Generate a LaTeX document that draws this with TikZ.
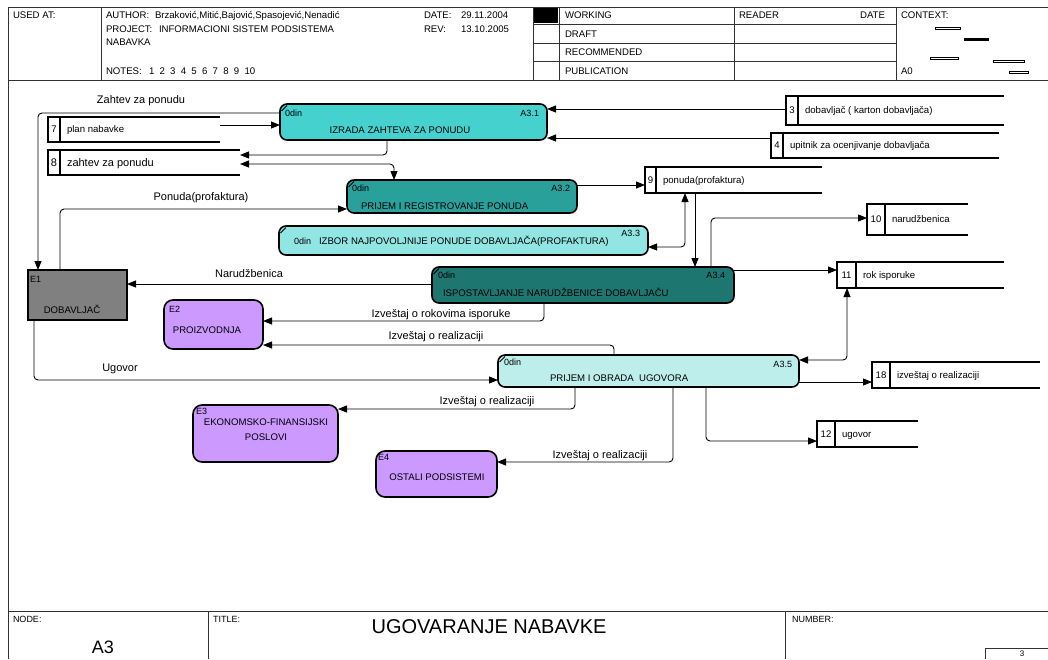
\documentclass[tikz,border=0pt]{standalone}
\usepackage{fontspec}
\setmainfont{Liberation Sans}
\usetikzlibrary{arrows.meta}

\definecolor{procA}{RGB}{69,210,207}
\definecolor{procB}{RGB}{42,160,155}
\definecolor{procC}{RGB}{145,229,226}
\definecolor{procD}{RGB}{30,118,112}
\definecolor{procE}{RGB}{190,238,236}
\definecolor{lav}{RGB}{204,153,255}
\definecolor{extgrey}{RGB}{128,128,128}
\definecolor{rulegrey}{RGB}{50,50,50}

\pgfdeclarelayer{flows}
\pgfsetlayers{flows,main}

\tikzset{
  frame/.style={draw=rulegrey, line width=0.8pt},
  proc/.style={draw=black, line width=1.6pt, rounded corners=7pt, inner sep=0pt, outer sep=0pt},
  entbox/.style={draw=black, line width=1.6pt, rounded corners=9pt, fill=lav, inner sep=0pt, outer sep=0pt},
  extbox/.style={draw=black, line width=1.6pt, fill=extgrey, inner sep=0pt, outer sep=0pt},
  flow/.style={draw=black, line width=0.9pt, rounded corners=4pt, -{Triangle[length=9pt,width=7pt]}},
  flowboth/.style={draw=black, line width=0.9pt, rounded corners=4pt,
    {Triangle[length=9pt,width=7pt]}-{Triangle[length=9pt,width=7pt]}},
  storeline/.style={draw=black, line width=1.8pt},
  lab/.style={inner sep=0pt, outer sep=0pt},
  f8/.style={lab, font=\fontsize{8}{9}\selectfont, yshift=-2.9pt},
  f9/.style={lab, font=\fontsize{9}{10}\selectfont, yshift=-3.2pt},
  f96/.style={lab, font=\fontsize{9.6}{11}\selectfont, yshift=-3.45pt},
  f11/.style={lab, font=\fontsize{11}{12}\selectfont, yshift=-3.95pt},
  cornertick/.style={line width=0.9pt},
  ctxbar/.style={draw=black, line width=0.7pt, fill=white},
}

% data store: name, left, top, right, bottom, divider x, number, label, text style
\newcommand{\datastore}[9]{%
  \node[lab, minimum width={(#4-#2)*1pt}, minimum height={(#5-#3)*1pt}] (#1) at ({(#2+#4)/2},{(#3+#5)/2}) {};
  \draw[storeline] (#1.north east) -- (#1.north west) -- (#1.south west) -- (#1.south east);
  \draw[storeline] ({#6},{#3}) -- ({#6},{#5});
  \node[#9, anchor=base] (#1n) at ({(#2+#6)/2},{(#3+#5)/2}) {#7};
  \node[#9, anchor=base west] (#1t) at ({#6+7},{(#3+#5)/2}) {#8};
}

\begin{document}
\begin{tikzpicture}[x=1pt,y=-1pt]
\useasboundingbox (0,0) rectangle (1048,659);

% ---------- header block ----------
\draw[frame] (8,7) -- (1048,7);
\draw[frame] (8,80) -- (1048,80);
\draw[frame] (8,7) -- (8,659);
\draw[frame] (101,7) -- (101,80);
\draw[frame] (533,7) -- (533,80);
\draw[frame] (559,7) -- (559,80);
\draw[frame] (734,7) -- (734,80);
\draw[frame] (896,7) -- (896,80);
\draw[frame] (533,24) -- (896,24);
\draw[frame] (533,43) -- (896,43);
\draw[frame] (533,61) -- (896,61);
\fill[black] (534,8) rectangle (558,23);

\node[f96, anchor=base west] (hused) at (13,15) {USED AT:};
\node[f96, anchor=base west] (hauth) at (106,15) {AUTHOR:};
\node[f96, anchor=base west] (hauthv) at (155,15) {Brzaković,Mitić,Bajović,Spasojević,Nenadić};
\node[f96, anchor=base west] (hproj) at (106,29) {PROJECT:};
\node[f96, anchor=base west] (hprojv) at (159,29) {INFORMACIONI SISTEM PODSISTEMA};
\node[f96, anchor=base west] (hproj2) at (106,42) {NABAVKA};
\node[f96, anchor=base west] (hnotes) at (106,71) {NOTES:};
\node[f96, anchor=base west] (hnotesv) at (149,71) {{\spaceskip=.55em\relax 1 2 3 4 5 6 7 8 9 10}};
\node[f96, anchor=base west] (hdate) at (424,15) {DATE:};
\node[f96, anchor=base west] (hdatev) at (461,15) {29.11.2004};
\node[f96, anchor=base west] (hrev) at (424,29) {REV:};
\node[f96, anchor=base west] (hrevv) at (461,29) {13.10.2005};
\node[f96, anchor=base west] (hwork) at (565,15) {WORKING};
\node[f96, anchor=base west] (hdraft) at (565,34) {DRAFT};
\node[f96, anchor=base west] (hrec) at (565,52) {RECOMMENDED};
\node[f96, anchor=base west] (hpub) at (565,71) {PUBLICATION};
\node[f96, anchor=base west] (hreader) at (739,15) {READER};
\node[f96, anchor=base east] (hrdate) at (885,15) {DATE};
\node[f96, anchor=base west] (hctx) at (901,15) {CONTEXT:};
\node[f96, anchor=base west] (ha0) at (901,71) {A0};

% context thumbnail
\draw[ctxbar] (935,27) rectangle (960,29.5);
\draw[ctxbar, fill=black] (964,38) rectangle (988,40.5);
\draw[ctxbar] (930,57) rectangle (958,59.5);
\draw[ctxbar] (993,60) rectangle (1024,62.5);
\draw[ctxbar] (1009,71) rectangle (1028,73.5);

% ---------- footer block ----------
\draw[frame] (8,611) -- (1048,611);
\draw[frame] (208,611) -- (208,659);
\draw[frame] (785,611) -- (785,659);
\draw[frame] (985,659) -- (985,648) -- (1048,648);
\node[f9, anchor=base west] (fnode) at (13,619) {NODE:};
\node[lab, font=\fontsize{18}{20}\selectfont, anchor=base, yshift=-6.4pt] (fnodev) at (103,647) {A3};
\node[f9, anchor=base west] (ftitle) at (213,619) {TITLE:};
\node[lab, font=\fontsize{20}{22}\selectfont, anchor=base, yshift=-7.2pt] (ftitlev) at (489,626) {UGOVARANJE NABAVKE};
\node[f9, anchor=base west] (fnum) at (792,619) {NUMBER:};
\node[f8, anchor=base] (fpage) at (1022,654) {3};

% ---------- data stores ----------
\datastore{st3}{786}{96}{1004}{125}{798}{3}{dobavljač ( karton dobavljača)}{f96}
\datastore{st4}{771}{133}{999}{158}{783}{4}{upitnik za ocenjivanje dobavljača}{f96}
\datastore{st7}{48}{117}{220}{142}{60}{7}{plan nabavke}{f96}
\datastore{st8}{48}{150}{240}{175}{60}{8}{zahtev za ponudu}{f11}
\datastore{st9}{645}{167}{822}{193}{656}{9}{ponuda(profaktura)}{f96}
\datastore{st10}{867}{204}{968}{235}{885}{10}{narudžbenica}{f96}
\datastore{st11}{837}{262}{1004}{288}{856}{11}{rok isporuke}{f96}
\datastore{st18}{872}{362}{1040}{388}{890}{18}{izveštaj o realizaciji}{f96}
\datastore{st12}{817}{421}{918}{447}{835}{12}{ugovor}{f96}

% ---------- activity boxes and external entities ----------
\node[proc, fill=procA, minimum width=267pt, minimum height=36pt] (a31) at (413.5,122) {};
\node[proc, fill=procB, minimum width=230pt, minimum height=33pt] (a32) at (462,196.5) {};
\node[proc, fill=procC, minimum width=369pt, minimum height=29pt] (a33) at (463.5,240.5) {};
\node[proc, fill=procD, minimum width=302pt, minimum height=36pt] (a34) at (583,285) {};
\node[proc, fill=procE, minimum width=301pt, minimum height=32pt] (a35) at (648.5,371) {};
\node[extbox, minimum width=99pt, minimum height=50pt] (e1) at (77.5,295) {};
\node[entbox, minimum width=99pt, minimum height=49pt] (e2) at (213.5,324.5) {};
\node[entbox, minimum width=145pt, minimum height=57pt] (e3) at (265.5,433.5) {};
\node[entbox, minimum width=121pt, minimum height=46pt] (e4) at (436.5,474) {};

% corner ticks of the activity boxes
\foreach \b in {a31,a32,a33,a34,a35}
  \draw[cornertick] ([xshift=1.5pt,yshift=-7pt]\b.north west) -- ([xshift=7pt,yshift=-1.5pt]\b.north west);

% ---------- connectors (kept under the boxes) ----------
\begin{pgfonlayer}{flows}
\draw[flow] (a31.west |- 0,113) -| (e1.north -| 38,0);
\draw[flow] (st7.east |- 0,125) -- (a31.west |- 0,125);
\draw[flow] (st3.west |- 0,109) -- (a31.east |- 0,109);
\draw[flow] (st4.west |- 0,138) -- (a31.east |- 0,138);
\draw[flow] (a31.south -| 387,0) |- (st8.east |- 0,155);
\draw[flowboth] (st8.east |- 0,164) -| (a32.north -| 394,0);
\draw[flow] (e1.north -| 60,0) |- (a32.west |- 0,209);
\draw[flow] (a32.east |- 0,185) -- (st9.west |- 0,185);
\draw[flowboth] (a33.east |- 0,247) -| (st9.south -| 685,0);
\draw[flow] (st9.south -| 695,0) -- (a34.north -| 695,0);
\draw[flow] (a34.north -| 711,0) |- (st10.west |- 0,218);
\draw[flow] (a34.west |- 0,284) -- (e1.east |- 0,284);
\draw[flow] (a34.east |- 0,270) -- (st11.west |- 0,270);
\draw[flowboth] (st11.south -| 847,0) |- (a35.east |- 0,360);
\draw[flow] (a34.south -| 544,0) |- (e2.east |- 0,321);
\draw[flow] (a35.north -| 614,0) |- (e2.east |- 0,345);
\draw[flow] (e1.south -| 34,0) |- (a35.west |- 0,380);
\draw[flow] (a35.east |- 0,382) -- (st18.west |- 0,382);
\draw[flow] (a35.south -| 706,0) |- (st12.west |- 0,441);
\draw[flow] (a35.south -| 575,0) |- (e3.east |- 0,409);
\draw[flow] (a35.south -| 673,0) |- (e4.east |- 0,462);
\end{pgfonlayer}

% ---------- box texts ----------
\node[f9, anchor=base west] (a31c) at (285,113) {0din};
\node[f9, anchor=base east] (a31i) at (539,113) {A3.1};
\node[f96, anchor=base] (a31t) at (400,130) {IZRADA ZAHTEVA ZA PONUDU};

\node[f9, anchor=base west] (a32c) at (352,188) {0din};
\node[f9, anchor=base east] (a32i) at (570,188) {A3.2};
\node[f96, anchor=base west] (a32t) at (361,206) {PRIJEM I REGISTROVANJE PONUDA};

\node[f9, anchor=base west] (a33c) at (294,241) {0din};
\node[f96, anchor=base west] (a33t) at (319,241) {IZBOR NAJPOVOLJNIJE PONUDE DOBAVLJAČA(PROFAKTURA)};
\node[f9, anchor=base east] (a33i) at (640,233) {A3.3};

\node[f9, anchor=base west] (a34c) at (438,275) {0din};
\node[f9, anchor=base east] (a34i) at (725,275) {A3.4};
\node[f96, anchor=base west] (a34t) at (443,293) {ISPOSTAVLJANJE NARUDŽBENICE DOBAVLJAČU};

\node[f9, anchor=base west] (a35c) at (504,362) {0din};
\node[f9, anchor=base east] (a35i) at (792,364) {A3.5};
\node[f96, anchor=base west] (a35t) at (550,378) {PRIJEM I OBRADA\ \ UGOVORA};

\node[f9, anchor=base west] (e1i) at (30,279) {E1};
\node[f96, anchor=base] (e1t) at (72,310) {DOBAVLJAČ};
\node[f9, anchor=base west] (e2i) at (169,309) {E2};
\node[f96, anchor=base] (e2t) at (207,330) {PROIZVODNJA};
\node[f9, anchor=base west] (e3i) at (196,411) {E3};
\node[f96, anchor=base] (e3t) at (266,422) {EKONOMSKO-FINANSIJSKI};
\node[f96, anchor=base] (e3u) at (266,437) {POSLOVI};
\node[f9, anchor=base west] (e4i) at (378,457) {E4};
\node[f96, anchor=base] (e4t) at (437,477) {OSTALI PODSISTEMI};

% ---------- flow labels ----------
\node[f11, anchor=base] (lzahtev) at (141,100) {Zahtev za ponudu};
\node[f11, anchor=base] (lponuda) at (201,197) {Ponuda(profaktura)};
\node[f11, anchor=base] (lnarud) at (249,274) {Narudžbenica};
\node[f11, anchor=base] (lrok) at (441,314) {Izveštaj o rokovima isporuke};
\node[f11, anchor=base] (lreal2) at (436,336) {Izveštaj o realizaciji};
\node[f11, anchor=base] (lugovor) at (120,368) {Ugovor};
\node[f11, anchor=base] (lreal3) at (487,401) {Izveštaj o realizaciji};
\node[f11, anchor=base] (lreal4) at (600,455) {Izveštaj o realizaciji};
\end{tikzpicture}
\end{document}
